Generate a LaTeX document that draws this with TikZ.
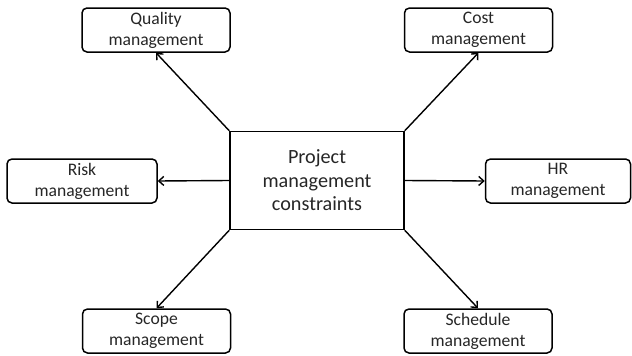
\documentclass[tikz,border=0pt]{standalone}
\usepackage{fontspec}
\setmainfont{Carlito}
\usetikzlibrary{arrows.meta}
\begin{document}
\begin{tikzpicture}[x=1pt,y=-1pt,
  area/.style={draw, line width=1.5pt, rounded corners=5pt, align=center,
    minimum width=148pt, minimum height=44pt, inner sep=0pt, text=black!85,
    font=\fontsize{17.6}{21}\selectfont},
  hub/.style={draw, line width=1.5pt, align=center, text=black!85,
    minimum width=174pt, minimum height=98pt, inner sep=0pt,
    font=\fontsize{20.2}{23.5}\selectfont},
  link/.style={line width=1.4pt, -{Straight Barb[length=5pt,width=9pt,line width=1.4pt]}}]
\useasboundingbox (0,0) rectangle (632,356);
\node[hub] (core) at (317,180.5) {Project\\management\\constraints};
\node[area] (quality) at (156,30) {Quality\\management};
\node[area] (cost) at (478.5,30) {Cost\\management};
\node[area, minimum width=150pt] (risk) at (82,181) {Risk\\management};
\node[area, minimum width=145pt] (hr) at (558,181) {HR\\management};
\node[area] (scope) at (156.5,331) {Scope\\management};
\node[area] (schedule) at (478,331) {Schedule\\management};
\draw[link] (core.north west) -- (quality.south);
\draw[link] (core.north east) -- (cost.south);
\draw[link] (core.west) -- (risk.east);
\draw[link] (core.east) -- (hr.west);
\draw[link] (core.south west) -- (scope.north);
\draw[link] (core.south east) -- (schedule.north);
\end{tikzpicture}
\end{document}
